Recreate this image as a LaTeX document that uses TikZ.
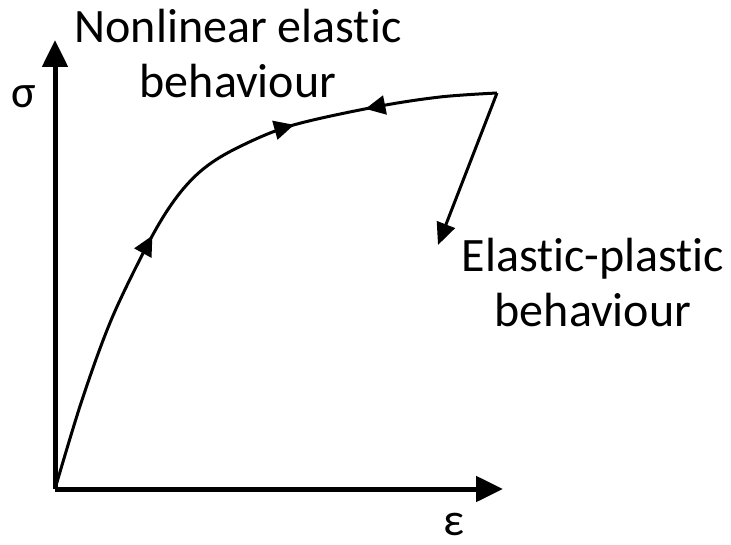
\documentclass[tikz,border=0pt]{standalone}
\usepackage{fontspec}
\setmainfont[Ligatures=NoCommon]{Carlito}
\usetikzlibrary{arrows.meta,decorations.markings}
\begin{document}
\begin{tikzpicture}[x=1pt,y=-1pt,
  axis/.style={line width=5pt,-{Triangle[length=27pt,width=25pt]}},
  curve/.style={line width=3pt},
  lbl/.style={font=\fontsize{48}{55}\selectfont,inner sep=0pt,align=center},
  sym/.style={font=\fontsize{46}{52}\selectfont,inner sep=0pt}]
\useasboundingbox (0,0) rectangle (731,545);
\coordinate (O) at (55,489);
\coordinate (ytip) at (55,40);
\coordinate (xtip) at (503,489);
\coordinate (top) at (497,93);
\coordinate (dtip) at (438,245);
\draw[axis] (O) -- (ytip);
\draw[axis] (O) -- (xtip);
\draw[curve,postaction={decorate},decoration={markings,
   mark=at position 0.41 with {\arrow{Triangle[length=20pt,width=19pt]}},
   mark=at position 0.69 with {\arrow{Triangle[length=20pt,width=19pt]}},
   mark=at position 0.80 with {\arrowreversed{Triangle[length=20pt,width=19pt]}}}]
  plot[smooth,tension=0.55] coordinates {(55,489) (82,400) (112,318) (150,240) (176,198) (202,170) (235,149) (290,126) (375,107) (440,97) (497,93)};
\draw[curve,-{Triangle[length=22pt,width=19pt]}] (top) -- (dtip);
\node[sym] (sigma) at (24,97) {σ};
\node[sym,anchor=base,text depth=0pt] (eps) at (454,535) {ε};
\node[lbl] (nle) at (238,54) {Nonlinear elastic\\behaviour};
\node[lbl] (epb) at (593,283) {Elastic-plastic\\behaviour};
\end{tikzpicture}
\end{document}
